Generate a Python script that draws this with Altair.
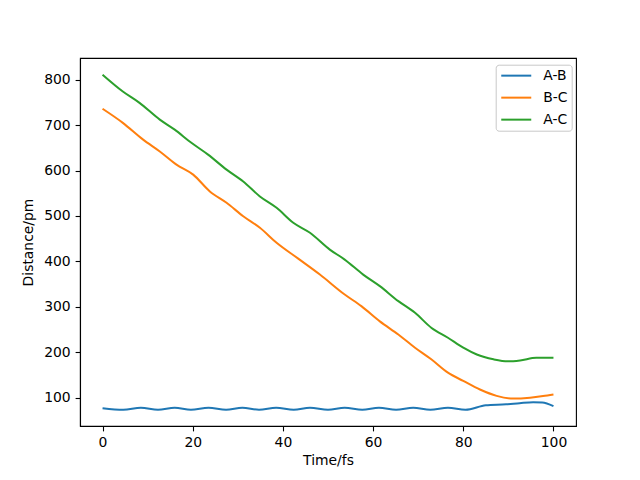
import altair as alt
import pandas as pd

# A-B distance
t_ab = [0, 4.6, 8.5, 12.3, 16, 19.6, 23.5, 27.4, 31, 34.7, 38.5, 42.4, 46, 50, 53.7,
        57.6, 61.3, 65.1, 68.9, 72.7, 76.6, 80.5, 85, 89.5, 92.5, 95.5, 97.5, 100]
d_ab = [77, 73.5, 78, 73.5, 78, 73.5, 78, 73.5, 78, 73.5, 78, 73.5, 78, 73.5, 78,
        73.5, 78, 73.5, 78, 73.5, 78, 73.5, 83.5, 85.5, 88, 90, 89.5, 81.5]

# B-C distance
t_bc = [0, 4.5, 9, 12.7, 16.4, 20.1, 23.8, 27.5, 31.2, 34.9, 38.6, 43.4, 48.2, 53.7,
        57.4, 61.5, 65.6, 69.3, 72.9, 76.6, 80, 83.7, 87.4, 91.1, 94.8, 97.7, 100]
d_bc = [736, 705, 668, 642, 613, 591, 554, 529, 499.5, 474, 441, 406, 371, 327,
        301.5, 268, 239, 210, 184.5, 155, 137, 118, 104, 98, 100, 103.5, 107]

# A-C distance
t_ac = [0, 4.5, 8.2, 12.7, 16, 19.7, 23.4, 27.5, 31.2, 34.9, 38.6, 42.3, 46, 50.4,
        53.7, 57.8, 61.5, 65.6, 69.3, 72.9, 76.6, 80, 83, 86.7, 89.9, 92.6, 96.2, 100]
d_ac = [811, 774, 749, 712, 690, 661, 635, 602, 576, 543, 518, 485, 463, 426,
        404, 371, 345.5, 312.5, 287, 254, 232, 210, 195, 184.5, 180, 182, 188, 188]

series = ["A-B", "B-C", "A-C"]
colors = ["#1f77b4", "#ff7f0e", "#2ca02c"]
x_ticks = [0, 20, 40, 60, 80, 100]
y_ticks = [100, 200, 300, 400, 500, 600, 700, 800]

rows = []
for name, ts, ds in [("A-B", t_ab, d_ab), ("B-C", t_bc, d_bc), ("A-C", t_ac, d_ac)]:
    for t, d in zip(ts, ds):
        rows.append({"Time": t, "Distance": d, "Bond": name})
df = pd.DataFrame(rows)

FONT = "DejaVu Sans"
FS = 13.9

chart = alt.Chart(df).mark_line(strokeWidth=2.0, interpolate="monotone", clip=True).encode(
    x=alt.X("Time:Q", title="Time/fs",
            scale=alt.Scale(domain=[-5, 105], nice=False, zero=False),
            axis=alt.Axis(values=x_ticks, format="d", titlePadding=4)),
    y=alt.Y("Distance:Q", title="Distance/pm",
            scale=alt.Scale(domain=[37.7, 847.7], nice=False, zero=False),
            axis=alt.Axis(values=y_ticks, format="d", titlePadding=8)),
    color=alt.Color("Bond:N",
                    scale=alt.Scale(domain=series, range=colors),
                    sort=series,
                    legend=alt.Legend(title=None, orient="none", legendX=415.7, legendY=6.7,
                                      symbolType="M-3,0H3", symbolSize=100,
                                      symbolStrokeWidth=2.0, symbolOffset=9.6,
                                      labelOffset=20,
                                      rowPadding=7, padding=4,
                                      strokeColor="#c8c8c8", fillColor="white",
                                      cornerRadius=3, labelFont=FONT, labelFontSize=FS,
                                      labelColor="black")),
    detail="Bond:N",
    order=alt.Order("Time:Q"),
).properties(
    width=496, height=368,
    autosize=alt.AutoSizeParams(type="none"),
    padding={"left": 72, "top": 50, "right": 56, "bottom": 45},
    background="white",
).configure_axis(
    grid=False,
    domainColor="black", domainWidth=1.1,
    tickColor="black", tickWidth=1.1, tickSize=4.9,
    labelFont=FONT, labelFontSize=FS, labelColor="black", labelPadding=4.9,
    titleFont=FONT, titleFontSize=FS, titleColor="black", titleFontWeight="normal",
).configure_view(
    stroke="black", strokeWidth=1.1
)

chart.save("out.html", embed_options={"renderer": "svg", "actions": False})
